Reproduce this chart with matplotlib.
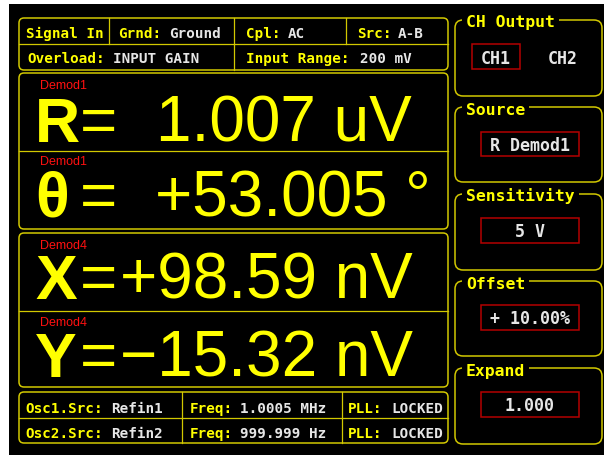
import matplotlib
matplotlib.use("Agg")
import matplotlib.pyplot as plt
from matplotlib.patches import FancyBboxPatch, Rectangle

# ---------------- data ----------------
input_labels = ["Signal In", "Grnd:", "Cpl:", "Src:", "Overload:", "Input Range:"]
input_values = ["", "Ground", "AC", "A-B", "INPUT GAIN", "200 mV"]

readout_names = ["R", "θ", "X", "Y"]
readout_values = ["1.007 uV", "+53.005 °", "+98.59 nV", "\u221215.32 nV"]
readout_sources = ["Demod1", "Demod1", "Demod4", "Demod4"]

osc_labels = ["Osc1.Src:", "Osc2.Src:"]
osc_sources = ["Refin1", "Refin2"]
freq_label = "Freq:"
osc_freqs = ["1.0005 MHz", "999.999 Hz"]
pll_label = "PLL:"
pll_states = ["LOCKED", "LOCKED"]

panel_titles = ["CH Output", "Source", "Sensitivity", "Offset", "Expand"]
channels = ["CH1", "CH2"]
panel_values = ["R Demod1", "5 V", "+ 10.00%", "1.000"]

# ---------------- style ----------------
YEL = "#FFFF00"
LINE = "#D2C800"
WHITE = "#E6E6E6"
RED_T = "#FF1010"
RED_B = "#B40000"
MONO = "DejaVu Sans Mono"
SANS = "Liberation Sans"

W, H = 604, 456
fig = plt.figure(figsize=(W / 100, H / 100), dpi=100)
fig.patch.set_facecolor("white")
ax = fig.add_axes([0, 0, 1, 1])
ax.set_xlim(0, W)
ax.set_ylim(H, 0)
ax.axis("off")

ax.add_patch(Rectangle((9, 5), W - 9, H - 5, fc="black", ec="none", zorder=0))


def rbox(x0, y0, x1, y1, r=5, ec=LINE, lw=1.1, z=2):
    ax.add_patch(FancyBboxPatch((x0, y0), x1 - x0, y1 - y0,
                                boxstyle=f"round,pad=0,rounding_size={r}",
                                fc="none", ec=ec, lw=lw, zorder=z))


def sbox(x0, y0, x1, y1, ec=RED_B, lw=1.1):
    ax.add_patch(Rectangle((x0, y0), x1 - x0, y1 - y0, fc="none", ec=ec, lw=lw, zorder=2))


def vline(x, y0, y1, lw=0.9):
    ax.plot([x, x], [y0, y1], color=LINE, lw=lw, zorder=2)


def hline(y, x0, x1, lw=0.9):
    ax.plot([x0, x1], [y, y], color=LINE, lw=lw, zorder=2)


# ---------------- top info box ----------------
rbox(19, 19, 448, 71)
hline(45, 19, 448)
for x in (109, 234, 346):
    vline(x, 19, 45)
vline(234, 45, 71)

small_fs = 10.3
lab_pos = [(26, 38), (118, 38), (246, 38), (357, 38), (27, 63), (246, 63)]
val_x = [None, 169, 288, 398, 113, 360]
for lab, val, (x, y), vx in zip(input_labels, input_values, lab_pos, val_x):
    ax.text(x, y, lab, color=YEL, fontsize=small_fs, family=MONO, weight="bold",
            va="baseline", ha="left", zorder=3)
    if val:
        ax.text(vx, y, val, color=WHITE, fontsize=small_fs, family=MONO, weight="bold",
                va="baseline", ha="left", zorder=3)

# ---------------- readouts ----------------
rbox(19, 74, 448, 230)
hline(152, 19, 448)
rbox(19, 234, 448, 388)
hline(312, 19, 448)

big_fs = 46
base_y = [142, 217, 299, 377]
src_y = [89, 165, 249, 326]
val_x0 = [156, 155, 120, 120]
for name, val, src, by, sy, vx in zip(readout_names, readout_values, readout_sources,
                                      base_y, src_y, val_x0):
    ax.text(40, sy, src, color=RED_T, fontsize=9, family=SANS,
            va="baseline", ha="left", zorder=3)
    ax.text(35, by, name, color=YEL, fontsize=45, family=SANS, weight="bold",
            va="baseline", ha="left", zorder=3)
    ax.text(80, by, "=", color=YEL, fontsize=big_fs, family=SANS,
            va="baseline", ha="left", zorder=3)
    ax.text(vx, by, val, color=YEL, fontsize=big_fs, family=SANS,
            va="baseline", ha="left", zorder=3)

# ---------------- bottom oscillator box ----------------
rbox(19, 393, 448, 444)
hline(419, 19, 448)
vline(182, 393, 444)
vline(342, 393, 444)
for i, y in enumerate((413, 438)):
    ax.text(25, y, osc_labels[i], color=YEL, fontsize=small_fs, family=MONO, weight="bold",
            va="baseline", zorder=3)
    ax.text(111, y, osc_sources[i], color=WHITE, fontsize=small_fs, family=MONO, weight="bold",
            va="baseline", zorder=3)
    ax.text(190, y, freq_label, color=YEL, fontsize=small_fs, family=MONO, weight="bold",
            va="baseline", zorder=3)
    ax.text(240, y, osc_freqs[i], color=WHITE, fontsize=small_fs, family=MONO, weight="bold",
            va="baseline", zorder=3)
    ax.text(348, y, pll_label, color=YEL, fontsize=small_fs, family=MONO, weight="bold",
            va="baseline", zorder=3)
    ax.text(391, y, pll_states[i], color=WHITE, fontsize=small_fs, family=MONO, weight="bold",
            va="baseline", zorder=3)

# ---------------- right panel ----------------
panel_tops = [21, 108, 195, 282, 369]
panel_bots = [97, 183, 271, 357, 445]
title_base = [27, 115, 201.5, 289, 376]
title_fs = 11.8
for t, y0, y1, tb in zip(panel_titles, panel_tops, panel_bots, title_base):
    rbox(455, y0, 602, y1, r=8)
    ax.text(466, tb, t, color=YEL, fontsize=title_fs, family=MONO, weight="bold",
            va="baseline", ha="left", zorder=4,
            bbox=dict(boxstyle="square,pad=0.25", fc="black", ec="none"))

val_fs = 12
# channel selector
sbox(472, 45, 520, 70)
ax.text(496, 64, channels[0], color=WHITE, fontsize=val_fs, family=MONO, weight="bold",
        va="baseline", ha="center", zorder=3)
ax.text(563, 64, channels[1], color=WHITE, fontsize=val_fs, family=MONO, weight="bold",
        va="baseline", ha="center", zorder=3)

val_boxes = [(133, 157), (219, 244), (306, 331), (393, 418)]
for v, (y0, y1) in zip(panel_values, val_boxes):
    sbox(481, y0, 579, y1)
    ax.text(530, (y0 + y1) / 2 + 6, v, color=WHITE, fontsize=val_fs, family=MONO,
            weight="bold", va="baseline", ha="center", zorder=3)

fig.savefig("out.png", dpi=100, facecolor="white")
